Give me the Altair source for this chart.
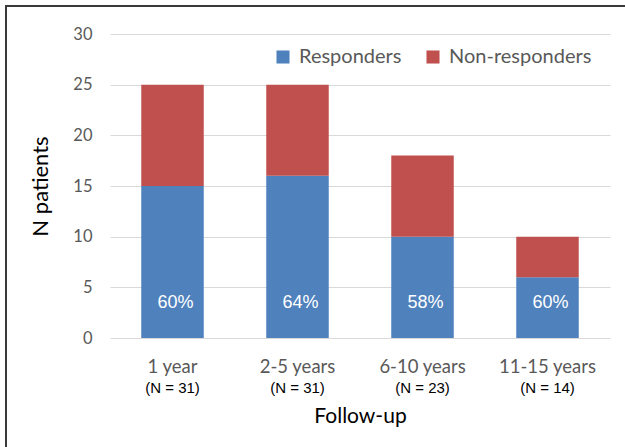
import altair as alt
import pandas as pd

# Follow-up groups and patient counts
groups = ["1 year", "2-5 years", "6-10 years", "11-15 years"]
n_total = ["(N = 31)", "(N = 31)", "(N = 23)", "(N = 14)"]
responders = [15, 16, 10, 6]
non_responders = [10, 9, 8, 4]
pct_labels = ["60%", "64%", "58%", "60%"]

series = ["Responders", "Non-responders"]
colors = ["#4F81BD", "#C0504D"]

rows = []
for g, r, nr in zip(groups, responders, non_responders):
    rows.append({"group": g, "status": "Responders", "n": r, "rank": 0})
    rows.append({"group": g, "status": "Non-responders", "n": nr, "rank": 1})
bars_df = pd.DataFrame(rows)
labels_df = pd.DataFrame({"group": groups, "pct": pct_labels, "ntot": n_total})

x_enc = alt.X(
    "group:N",
    sort=groups,
    scale=alt.Scale(paddingInner=0.5, paddingOuter=0.25),
    axis=alt.Axis(
        title="Follow-up",
        labelAngle=0,
        labelFont="Lato",
        labelFontSize=18.5,
        labelColor="#595959",
        labelPadding=19,
        ticks=False,
        domain=False,
        titleFont="Lato",
        titleFontSize=21,
        titleFontWeight="normal",
        titleColor="#000000",
        titlePadding=30,
    ),
)

bars = alt.Chart(bars_df).mark_bar().encode(
    x=x_enc,
    y=alt.Y(
        "n:Q",
        stack="zero",
        scale=alt.Scale(domain=[0, 30]),
        axis=alt.Axis(
            values=[0, 5, 10, 15, 20, 25, 30],
            title="N patients",
            labelFont="Lato",
            labelFontSize=16.5,
            labelColor="#595959",
            labelPadding=18,
            ticks=False,
            domain=False,
            gridColor="#d9d9d9",
            titleFont="Lato",
            titleFontSize=22,
            titleFontWeight="normal",
            titleColor="#000000",
            titlePadding=20,
        ),
    ),
    color=alt.Color(
        "status:N",
        scale=alt.Scale(domain=series, range=colors),
        legend=alt.Legend(
            title=None,
            orient="none",
            legendX=163,
            legendY=13,
            direction="horizontal",
            symbolType="square",
            symbolSize=170,
            symbolStrokeWidth=0,
            symbolOpacity=1,
            labelFont="Lato",
            labelFontSize=20,
            labelColor="#595959",
            labelOffset=6,
            columnPadding=21,
        ),
    ),
    order=alt.Order("rank:Q"),
)

pct = alt.Chart(labels_df).mark_text(
    font="Liberation Sans", fontSize=18, color="white", baseline="middle", dx=3
).encode(
    x=alt.X("group:N", sort=groups),
    y=alt.datum(3.5),
    text="pct:N",
)

ntext = alt.Chart(labels_df).mark_text(
    font="Liberation Sans", fontSize=15, color="#000000", baseline="middle"
).encode(
    x=alt.X("group:N", sort=groups),
    y=alt.value(354),
    text="ntot:N",
)

# outer frame around the whole figure (right and bottom edges fall off-canvas)
frame = alt.Chart(pd.DataFrame({"k": [0]})).mark_rect(
    fill=None, stroke="#3a3a3a", strokeWidth=2, clip=False
).encode(
    x=alt.value(-104), x2=alt.value(540), y=alt.value(-28), y2=alt.value(440)
)

chart = (
    alt.layer(bars, pct, ntext, frame)
    .properties(
        width=500,
        height=304,
        autosize=alt.AutoSizeParams(type="none"),
        padding={"left": 110, "top": 34, "right": 15, "bottom": 109},
        background="white",
    )
    .configure_view(stroke=None)
)

chart.save("out.html", embed_options={"renderer": "svg", "actions": False})
